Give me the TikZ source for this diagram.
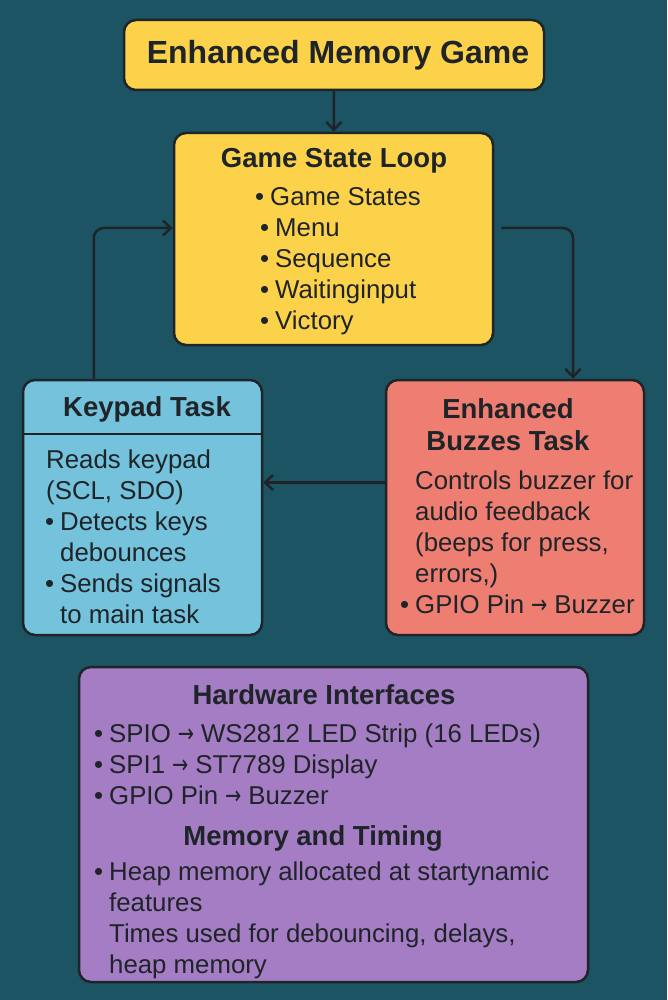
\documentclass[tikz,border=0pt]{standalone}
\usepackage{fontspec}
\setmainfont{Liberation Sans}
\newfontfamily\arrowfont{DejaVu Sans}
\usetikzlibrary{arrows.meta,positioning}
\definecolor{TealFondo}{RGB}{28,84,100}
\definecolor{InkDark}{RGB}{30,36,39}
\definecolor{YellowLoop}{RGB}{253,210,75}
\definecolor{BlueKeypad}{RGB}{116,194,220}
\definecolor{RedBuzzer}{RGB}{238,125,114}
\definecolor{PurpleHw}{RGB}{165,125,196}
\newcommand{\bodyfont}{\fontsize{25.8}{31}\selectfont}
\newcommand{\headfont}{\bfseries\fontsize{27.5}{32}\selectfont}
\newcommand{\bul}{\llap{\textbullet\hspace{6pt}}}
\newcommand{\arr}{\hspace{7pt}\scalebox{0.75}[1]{\arrowfont →}\hspace{7pt}}

\begin{document}
\begin{tikzpicture}[x=1pt,y=-1pt,>={Straight Barb[length=8pt,width=15pt]},
  box/.style={draw=InkDark,line width=2.5pt,rounded corners=12pt,inner sep=0pt},
  link/.style={->,line width=2.5pt,InkDark,rounded corners=10pt},
  txt/.style={anchor=west,align=left,inner sep=0pt,font=\bodyfont,text=InkDark},
  head/.style={align=center,inner sep=0pt,font=\headfont,text=InkDark}]
  \fill[TealFondo] (0,0) rectangle (667,1000);

  \node[box,fill=YellowLoop,minimum width=420pt,minimum height=70pt,
    font=\bfseries\fontsize{32}{36}\selectfont,text=InkDark] (title) at (334,55) {\hspace*{8pt}Enhanced Memory Game};

  \node[box,fill=YellowLoop,minimum width=319pt,minimum height=212pt] (loop) at (333.5,239) {};
  \node[head] (loophead) at (334,161) {Game State Loop};
  \node[txt] (looptxt) at (270,261) {\bul Game States\\
    \hspace*{5pt}\bul Menu\\
    \hspace*{5pt}\bul Sequence\\
    \hspace*{5pt}\bul Waitinginput\\
    \hspace*{5pt}\bul Victory};

  \node[box,fill=BlueKeypad,minimum width=239pt,minimum height=255pt] (keypad) at (142.5,507.5) {};
  \draw[InkDark,line width=2.5pt] ([yshift=-55pt]keypad.north west) -- ([yshift=-55pt]keypad.north east);
  \node[head] (keypadhead) at (147,409) {Keypad Task};
  \node[txt] (keypadtxt) at (46,537) {Reads keypad\\
    (SCL, SDO)\\
    \hspace*{14pt}\bul Detects keys\\
    \hspace*{14pt}debounces\\
    \hspace*{14pt}\bul Sends signals\\
    \hspace*{14pt}to main task};

  \node[box,fill=RedBuzzer,minimum width=258pt,minimum height=255pt] (buzzer) at (515,507.5) {};
  \node[head] (buzzerhead) at (508,425) {Enhanced\\Buzzes Task};
  \node[txt] (buzzertxt) at (415,542) {Controls buzzer for\\
    audio feedback\\
    (beeps for press,\\
    errors,)\\
    \bul GPIO Pin\arr Buzzer};

  \node[box,fill=PurpleHw,minimum width=509pt,minimum height=315pt] (hardware) at (333.5,824.5) {};
  \node[head] (hwhead) at (324,695) {Hardware Interfaces};
  \node[txt] (hwtxt) at (109,764) {\bul SPIO\arr WS2812 LED Strip (16 LEDs)\\
    \bul SPI1\arr ST7789 Display\\
    \bul GPIO Pin\arr Buzzer};
  \node[head] (memhead) at (313,838) {Memory and Timing};
  \node[txt] (memtxt) at (109,920) {\bul Heap memory allocated at startynamic\\
    features\\
    Times used for debouncing, delays,\\
    heap memory};

  \draw[link] (title) -- (loop);
  \draw[link] ([xshift=72pt]keypad.north west) |- ([yshift=11pt]loop.west);
  \draw[link,shorten <=7pt] ([yshift=11pt]loop.east) -| ([xshift=58pt]buzzer.north);
  \draw[link] ([yshift=25pt]buzzer.west) -- ([yshift=25pt]keypad.east);
\end{tikzpicture}
\end{document}
